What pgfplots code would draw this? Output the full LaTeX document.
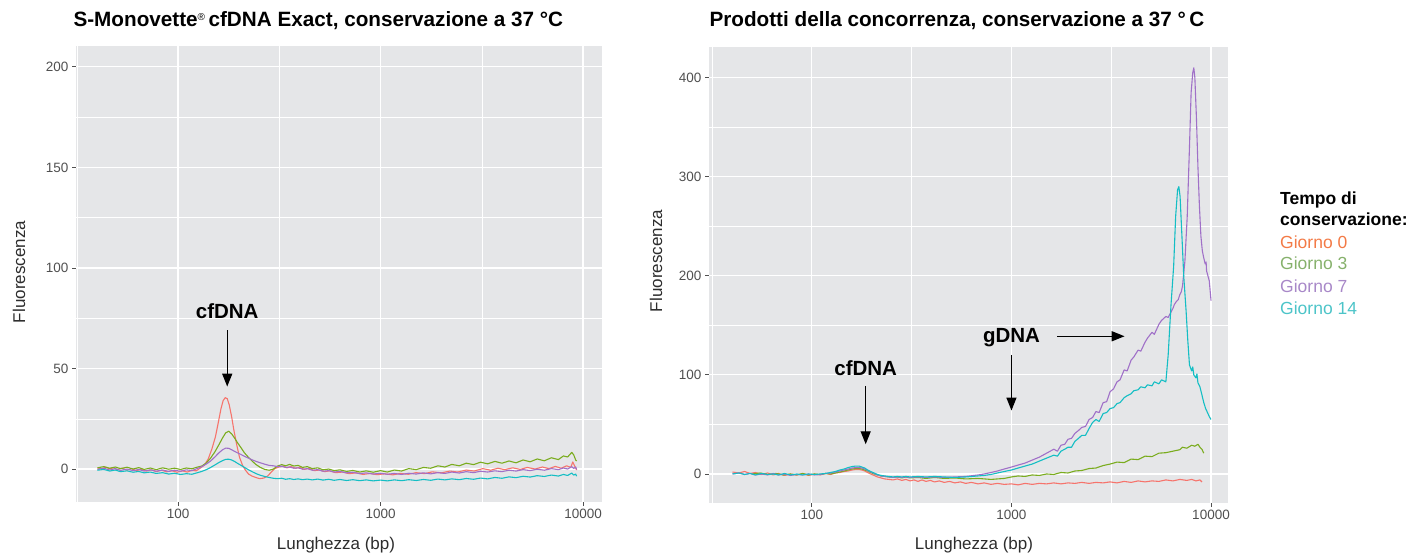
\documentclass[border=0pt]{standalone}
\usepackage{fontspec}
\setmainfont{Liberation Sans}
\usepackage{pgfplots}
\pgfplotsset{compat=1.18}
\usetikzlibrary{arrows.meta}
\definecolor{panelbg}{RGB}{229,230,232}
\definecolor{tickgray}{RGB}{80,80,80}
\definecolor{labgray}{RGB}{45,45,45}
\definecolor{cred}{RGB}{246,116,108}
\definecolor{cgreen}{RGB}{122,172,30}
\definecolor{cpurple}{RGB}{160,112,200}
\definecolor{ccyan}{RGB}{20,190,196}
\definecolor{lred}{RGB}{243,122,70}
\definecolor{lgreen}{RGB}{134,177,108}
\definecolor{lpurple}{RGB}{168,136,200}
\definecolor{lcyan}{RGB}{76,196,200}
\begin{document}
\begin{tikzpicture}[x=1pt,y=1pt]
\useasboundingbox (0,0) rectangle (1424,555);
% ---------------- left panel ----------------
\begin{axis}[
  scale only axis,
  xmode=log,
  axis background/.style={fill=panelbg},
  axis line style={draw=none},
  grid=both,
  major grid style={white, line width=1.1pt},
  minor grid style={white, line width=0.5pt},
  tick align=outside,
  tick pos=left,
  major tick length=4pt,
  minor tick length=0pt,
  major tick style={draw=tickgray, line width=0.9pt},
  xtick={100,1000,10000},
  xticklabels={100,1000,10000},
  minor xtick={31.62,316.2,3162},
  ticklabel style={font=\fontsize{13.5}{13.5}\selectfont, text=tickgray},
  /pgf/number format/assume math mode=true,
  no markers,
  every axis plot/.append style={line width=1.1pt, line join=round},
  at={(76pt,53pt)}, anchor=south west,
  width=526pt, height=456pt,
  xmin=31.35, xmax=12410, ymin=-16.4, ymax=210.4,
  ytick={0,50,100,150,200}, minor ytick={25,75,125,175},
]
\addplot[cred] coordinates {
(40,0.5)(42,0.2)(44,0.9)(46,0.1)(48,0.6)(50,-0.3)(53,0.4)(56,-0.6)(59,0.2)(62,-0.8)(66,-0.2)(70,-1.0)(74,-0.4)(78,-1.3)(83,-0.6)(88,-1.4)(93,-0.8)(99,-1.6)(105,-0.9)(111,-1.5)(117,-0.7)(123,-0.9)(129,0.5)(135,2)(141,5)(147,10)(153,16)(158,23)(163,30)(167,34)(171,35.5)(175,35)(179,32)(184,26)(189,19)(195,12)(201,6)(208,2)(215,-0.5)(223,-2.5)(232,-3.5)(242,-4.2)(253,-4.8)(265,-4.5)(277,-3.5)(289,-1.5)(300,0.2)(315,1)(330,1.4)(345,0.6)(362,1.2)(380,0.4)(400,0.8)(420,-0.2)(445,0.3)(470,-0.8)(500,-0.5)(530,-1.3)(560,-0.9)(600,-1.8)(650,-1.5)(700,-2.3)(760,-1.9)(820,-2.7)(890,-2.2)(960,-2.8)(1050,-2.4)(1150,-2.9)(1250,-2.2)(1370,-2.6)(1500,-1.8)(1650,-2.3)(1800,-1.4)(2000,-1.9)(2200,-1.0)(2400,-1.5)(2650,-0.5)(2900,-1.0)(3200,0.2)(3500,-0.6)(3800,0.4)(4100,-0.3)(4500,0.6)(4900,-0.2)(5300,0.8)(5800,0.0)(6300,1.0)(6800,0.2)(7300,1.3)(7800,0.4)(8300,1.6)(8700,0.8)(8900,3.5)(9100,1.5)(9300,-0.5)
};
\addplot[cgreen] coordinates {
(40,0.6)(43,1.2)(46,0.4)(49,1.0)(52,0.2)(56,0.9)(60,0.0)(64,0.7)(68,-0.2)(73,0.5)(78,-0.3)(84,0.6)(90,-0.1)(96,0.4)(103,-0.2)(110,0.5)(117,0.1)(124,0.9)(131,1.5)(138,3)(145,5.5)(152,8.5)(159,12)(166,15.5)(172,18)(178,18.8)(184,17.5)(190,15.5)(197,13)(205,10.5)(213,8)(222,6)(232,4)(243,2.2)(255,0.8)(268,-0.2)(282,-0.6)(296,0)(310,1.5)(325,2.2)(340,1.6)(356,2.3)(373,1.5)(392,1.8)(412,0.8)(435,1.2)(460,0.2)(490,0.6)(520,-0.4)(555,0)(590,-0.8)(630,-0.4)(680,-1.2)(730,-0.7)(790,-1.5)(850,-0.9)(920,-1.6)(1000,-0.8)(1080,-1.5)(1170,-0.5)(1270,-1.0)(1380,0.2)(1500,-0.3)(1630,0.8)(1770,0.4)(1920,1.6)(2080,1.0)(2250,2.3)(2450,1.6)(2650,2.9)(2880,2.2)(3120,3.4)(3380,2.6)(3670,3.8)(3980,2.9)(4310,4.0)(4670,3.1)(5060,4.5)(5480,3.6)(5940,5.0)(6440,4.1)(6980,5.6)(7560,4.7)(8000,6.5)(8400,6.0)(8800,8.3)(9000,7.0)(9200,4.5)(9300,4.0)
};
\addplot[cpurple] coordinates {
(40,-0.2)(43,0.4)(46,-0.5)(49,0.2)(52,-0.7)(56,0.0)(60,-0.8)(64,-0.2)(68,-1.0)(73,-0.4)(78,-1.1)(84,-0.5)(90,-1.2)(96,-0.6)(103,-1.1)(110,-0.4)(117,-0.8)(124,0.2)(131,1.2)(138,2.5)(145,4)(152,6)(159,8)(166,9.6)(172,10.4)(178,10.3)(184,9.6)(190,8.8)(197,8)(205,7.2)(213,6.3)(222,5.5)(232,4.6)(243,3.8)(255,3.1)(268,2.4)(282,1.8)(296,1.6)(310,1.2)(325,1.4)(340,0.8)(356,1.0)(373,0.4)(392,0.6)(412,-0.1)(435,0.2)(460,-0.6)(490,-0.3)(520,-1.1)(555,-0.8)(590,-1.5)(630,-1.2)(680,-1.9)(730,-1.6)(790,-2.3)(850,-1.9)(920,-2.5)(1000,-2.1)(1080,-2.6)(1170,-2.2)(1270,-2.7)(1380,-2.1)(1500,-2.5)(1630,-1.9)(1770,-2.4)(1920,-1.8)(2080,-2.2)(2250,-1.5)(2450,-2.0)(2650,-1.3)(2880,-1.8)(3120,-1.1)(3380,-1.5)(3670,-0.9)(3980,-1.3)(4310,-0.6)(4670,-1.0)(5060,-0.3)(5480,-0.8)(5940,-0.1)(6440,-0.6)(6980,0.2)(7560,-0.3)(8000,0.5)(8400,0.0)(8800,1.2)(9000,0.3)(9200,1.0)(9300,-0.2)
};
\addplot[ccyan] coordinates {
(40,-0.6)(43,-0.2)(46,-1.0)(49,-0.5)(52,-1.3)(56,-0.9)(60,-1.6)(64,-1.2)(68,-1.9)(73,-1.5)(78,-2.2)(84,-1.8)(90,-2.5)(96,-2.1)(103,-2.7)(110,-2.3)(117,-2.6)(124,-1.9)(131,-1.2)(138,-0.3)(145,0.8)(152,2)(159,3.2)(166,4.2)(172,4.8)(178,4.9)(184,4.5)(190,3.8)(197,2.8)(205,1.8)(213,0.8)(222,-0.3)(232,-1.3)(243,-2.3)(255,-3.1)(268,-3.7)(282,-4.2)(296,-4.6)(310,-4.8)(325,-4.6)(340,-5.1)(356,-4.8)(373,-5.2)(392,-4.9)(412,-5.3)(435,-5.0)(460,-5.4)(490,-5.0)(520,-5.5)(555,-5.1)(590,-5.6)(630,-5.2)(680,-5.7)(730,-5.3)(790,-5.8)(850,-5.4)(920,-5.9)(1000,-5.5)(1080,-5.9)(1170,-5.4)(1270,-5.8)(1380,-5.3)(1500,-5.7)(1630,-5.2)(1770,-5.6)(1920,-5.0)(2080,-5.4)(2250,-4.9)(2450,-5.3)(2650,-4.7)(2880,-5.1)(3120,-4.5)(3380,-4.9)(3670,-4.2)(3980,-4.6)(4310,-3.9)(4670,-4.3)(5060,-3.6)(5480,-4.0)(5940,-3.3)(6440,-3.7)(6980,-3.0)(7560,-3.5)(8000,-2.7)(8400,-3.2)(8800,-2.0)(9000,-3.0)(9200,-2.5)(9300,-3.6)
};
\node[font=\bfseries\fontsize{20.5}{20.5}\selectfont, text=black] at (axis cs:175,78.5) {cfDNA};
\draw[line width=1.4pt, -{Triangle[length=13pt,width=10pt]}] (axis cs:175,69) -- (axis cs:175,41);
\end{axis}
% ---------------- right panel ----------------
\begin{axis}[
  scale only axis,
  xmode=log,
  axis background/.style={fill=panelbg},
  axis line style={draw=none},
  grid=both,
  major grid style={white, line width=1.1pt},
  minor grid style={white, line width=0.5pt},
  tick align=outside,
  tick pos=left,
  major tick length=4pt,
  minor tick length=0pt,
  major tick style={draw=tickgray, line width=0.9pt},
  xtick={100,1000,10000},
  xticklabels={100,1000,10000},
  minor xtick={31.62,316.2,3162},
  ticklabel style={font=\fontsize{13.5}{13.5}\selectfont, text=tickgray},
  /pgf/number format/assume math mode=true,
  no markers,
  every axis plot/.append style={line width=1.1pt, line join=round},
  at={(709pt,52pt)}, anchor=south west,
  width=519pt, height=456pt,
  xmin=30.5, xmax=12168, ymin=-29.3, ymax=431,
  ytick={0,100,200,300,400}, minor ytick={50,150,250,350},
]
\addplot[cred] coordinates {
(40,2)(43,1)(46,2.5)(49,0.5)(52,1.5)(56,-0.5)(60,1)(64,-1)(68,0.5)(73,-1.5)(78,0)(84,-1)(90,0.5)(96,-1.5)(103,0)(110,-1)(117,0.5)(124,-0.5)(131,1)(138,1.5)(145,2.5)(152,3)(159,4)(166,4.5)(172,4.5)(178,4)(184,3)(190,1.5)(197,0)(205,-1.5)(213,-3)(222,-4)(232,-5)(243,-5.5)(255,-6)(268,-5)(282,-6.5)(296,-5.5)(310,-7)(325,-6)(340,-7.5)(356,-6)(373,-7.5)(392,-6.5)(412,-8)(435,-7)(460,-8.5)(490,-7.5)(520,-9)(555,-8)(590,-9.5)(630,-8.5)(680,-10)(730,-9)(790,-10.5)(850,-9.5)(920,-10.5)(1000,-10)(1080,-11)(1170,-9.5)(1270,-10.5)(1380,-9.5)(1500,-10)(1630,-9)(1770,-10)(1920,-9)(2080,-9.5)(2250,-8.5)(2450,-9.5)(2650,-8.5)(2880,-9)(3120,-8)(3380,-9)(3670,-7.5)(3980,-8.5)(4310,-7)(4670,-8)(5060,-7)(5480,-7.5)(5940,-6)(6440,-7)(6980,-5.5)(7560,-6.5)(8000,-5.5)(8400,-7)(8800,-6)(9000,-8)
};
\addplot[cgreen] coordinates {
(50,0)(55,1)(60,-0.5)(66,0.5)(72,-1)(78,0)(84,-1)(90,0.5)(96,-1)(103,0)(110,-0.5)(117,0.5)(124,0)(131,1)(138,2)(145,3)(152,4)(159,5)(166,5.5)(172,5.5)(178,5)(184,4)(190,3)(197,1.5)(205,0)(213,-1)(222,-2)(232,-2.5)(243,-3)(255,-3.5)(268,-3)(282,-4)(296,-3)(310,-4)(340,-3.5)(373,-4.5)(412,-3.5)(460,-4.5)(520,-4)(590,-5)(680,-4.5)(790,-5.5)(920,-4.5)(1000,-3)(1080,-2)(1170,-2.5)(1270,-1)(1380,-1.5)(1500,0)(1630,-0.5)(1770,1.5)(1920,1)(2080,3)(2250,3.5)(2450,5.5)(2650,6)(2880,8.5)(3120,10)(3380,12)(3670,11.5)(3980,15)(4310,14.5)(4670,18)(5060,17.5)(5480,21)(5940,21.5)(6440,23)(6980,24.5)(7200,27)(7560,26)(8000,29)(8300,28)(8600,30)(8800,27)(9000,25)(9200,21)
};
\addplot[cpurple] coordinates {
(40,0)(43,1)(46,-0.5)(49,0.5)(52,-1)(56,0)(60,-1)(64,0.5)(68,-1)(73,0)(78,-1.5)(84,-0.5)(90,-1)(96,0)(103,-1)(110,-0.5)(117,0.5)(124,1)(131,2)(138,3)(145,4)(152,5)(159,6)(166,6.5)(172,6.5)(178,6)(184,5)(190,3.5)(197,2)(205,0.5)(213,-1)(222,-2)(232,-2.5)(243,-3)(255,-3.5)(268,-3)(282,-3.5)(296,-3)(310,-3.5)(340,-3)(373,-3.5)(412,-3)(460,-3.5)(520,-3)(590,-2.5)(680,-1)(730,0)(790,1.5)(850,3)(920,5)(1000,7)(1080,9)(1170,11)(1270,14)(1380,17)(1500,21)(1630,25)(1700,23)(1770,29)(1850,30)(1920,35)(2000,36)(2080,41)(2170,44)(2250,47)(2350,48)(2450,55)(2550,57)(2650,63)(2750,62)(2880,72)(3000,73)(3120,83)(3250,86)(3380,93)(3500,95)(3670,105)(3800,104)(3980,115)(4100,118)(4310,125)(4450,124)(4670,133)(4800,137)(5060,143)(5200,141)(5480,151)(5650,155)(5940,159)(6100,158)(6440,167)(6550,171)(6700,174)(6850,176)(6980,181)(7100,184)(7200,190)(7400,215)(7600,260)(7800,330)(7950,385)(8100,405)(8200,410)(8300,400)(8450,360)(8600,310)(8750,270)(8900,240)(9050,225)(9200,218)(9350,212)(9450,214)(9500,205)(9650,200)(9800,195)(9900,185)(10000,175)
};
\addplot[ccyan] coordinates {
(40,0)(43,1)(46,-0.5)(49,0.5)(52,-1)(56,0.5)(60,-0.5)(64,0)(68,-1)(73,0.5)(78,-1)(84,0)(90,-1)(96,0)(103,-0.5)(110,0)(117,0.5)(124,1.5)(131,2.5)(138,4)(145,5)(152,6.5)(159,7.5)(166,8)(172,8)(178,7)(184,6)(190,4)(197,2.5)(205,1)(213,-0.5)(222,-1.5)(232,-2)(243,-2.5)(255,-3)(268,-2.5)(282,-3)(296,-2.5)(310,-3)(340,-2.5)(373,-3)(412,-2.5)(460,-3)(520,-3.5)(590,-3)(680,-2)(730,-1.5)(790,-0.5)(850,1)(920,2.5)(1000,4)(1080,6)(1170,8)(1270,10)(1380,13)(1500,16)(1630,19)(1700,18)(1770,23)(1850,25)(1920,27)(2000,27)(2080,33)(2170,36)(2250,39)(2350,39)(2450,46)(2550,52)(2650,55)(2750,53)(2880,61)(3000,62)(3120,66)(3250,67)(3380,71)(3500,72)(3670,77)(3800,79)(3980,81)(4100,84)(4310,85)(4450,88)(4670,87)(4800,90)(5060,89)(5200,93)(5480,91)(5650,95)(5940,93)(6100,120)(6300,170)(6500,210)(6650,260)(6800,287)(6900,290)(7000,280)(7150,240)(7300,200)(7500,165)(7650,135)(7800,110)(8000,104)(8100,108)(8200,100)(8400,97)(8500,101)(8600,92)(8800,88)(9000,80)(9200,72)(9400,66)(9600,62)(9800,58)(10000,55)
};
\node[font=\bfseries\fontsize{20.5}{20.5}\selectfont, text=black] at (axis cs:186,107) {cfDNA};
\draw[line width=1.4pt, -{Triangle[length=13pt,width=10pt]}] (axis cs:186,89) -- (axis cs:186,30);
\node[font=\bfseries\fontsize{20.5}{20.5}\selectfont, text=black] at (axis cs:1000,138) {gDNA};
\draw[line width=1.4pt, -{Triangle[length=13pt,width=10pt]}] (axis cs:1000,120) -- (axis cs:1000,64);
\draw[line width=1.4pt, -{Triangle[length=13pt,width=10pt]}] (axis cs:1700,139) -- (axis cs:3690,139);
\end{axis}
% ---------------- titles, labels, legend ----------------
\node[anchor=base west, font=\bfseries\fontsize{20.7}{20.7}\selectfont] at (70,528) {S-Monovette\raisebox{6pt}{\fontsize{10}{10}\selectfont\mdseries ®}\,cfDNA Exact, conservazione a 37 °C};
\node[anchor=base west, font=\bfseries\fontsize{20.7}{20.7}\selectfont] at (706,528) {Prodotti della concorrenza, conservazione a 37 °\,C};
\node[font=\fontsize{17}{17}\selectfont, text=labgray] at (336,10) {Lunghezza (bp)};
\node[font=\fontsize{17}{17}\selectfont, text=labgray] at (974,10) {Lunghezza (bp)};
\node[font=\fontsize{17}{17}\selectfont, text=labgray, rotate=90] at (19,283) {Fluorescenza};
\node[font=\fontsize{17}{17}\selectfont, text=labgray, rotate=90] at (656,294) {Fluorescenza};
\begin{scope}[every node/.style={anchor=base west, inner sep=0pt, font=\fontsize{17.5}{17.5}\selectfont}]
\node[font=\bfseries\fontsize{17.5}{17.5}\selectfont] at (1280,350) {Tempo di};
\node[font=\bfseries\fontsize{17.5}{17.5}\selectfont] at (1280,329) {conservazione:};
\node[text=lred] at (1280,306.7) {Giorno 0};
\node[text=lgreen] at (1280,285) {Giorno 3};
\node[text=lpurple] at (1280,262.3) {Giorno 7};
\node[text=lcyan] at (1280,240.7) {Giorno 14};
\end{scope}
\end{tikzpicture}
\end{document}
